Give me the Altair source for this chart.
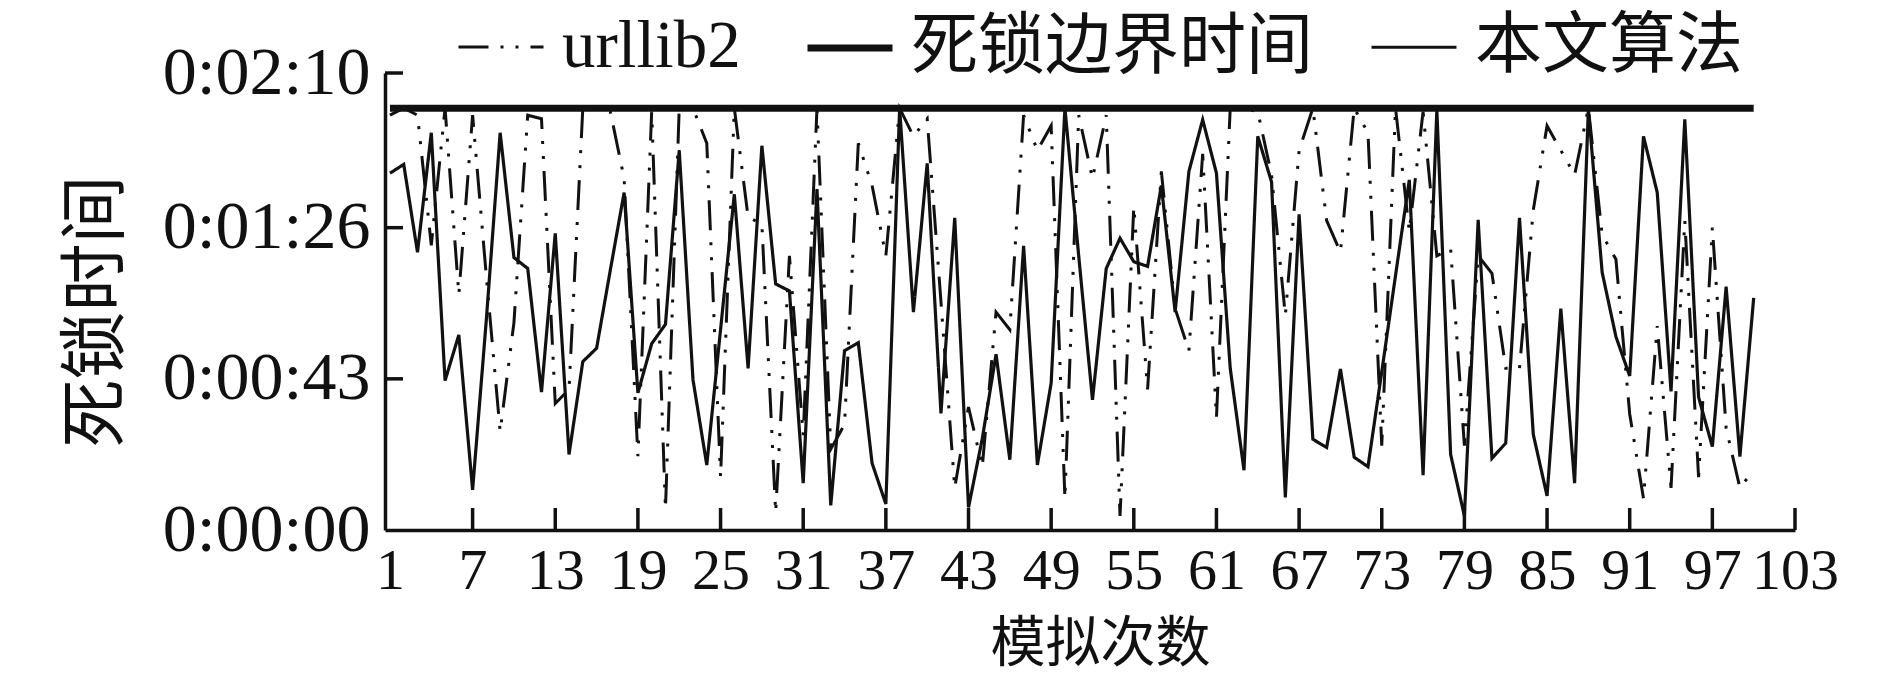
import altair as alt
import pandas as pd

# ---------------- data ----------------
series_names = ["urllib2", "死锁边界时间", "本文算法"]

runs = list(range(1, 101))

urllib2_secs = [118, 120, 118, 81, 120, 67, 118, 72, 28, 59,
                118, 117, 36, 40, 120, 120, 119, 100, 21, 119,
                6, 120, 120, 110, 15, 120, 89, 87, 5, 78,
                27, 120, 23, 30, 110, 98, 78, 120, 112, 117,
                65, 12, 35, 18, 62, 57, 118, 108, 115, 9,
                118, 100, 118, 4, 92, 40, 102, 63, 51, 107,
                32, 120, 120, 119, 101, 61, 108, 120, 88, 79,
                120, 113, 24, 120, 85, 119, 78, 80, 24, 78,
                73, 46, 46, 91, 115, 108, 101, 120, 84, 77,
                33, 9, 58, 12, 88, 15, 86, 29, 12, 17]

ours_secs = [101.5, 104, 79, 113, 42.5, 55.5, 11.4, 60, 113, 77.5,
             74.4, 39.2, 84.4, 21.5, 47.9, 51.7, 74, 96, 39, 53,
             58.5, 108, 42.7, 18.5, 57, 95.5, 46, 109.3, 70, 68,
             13.3, 97, 7, 51, 53.3, 19, 7.4, 120, 62, 104.3,
             33.2, 88.8, 6.4, 26, 50, 20, 80.8, 18.5, 41.8, 120,
             78, 37, 74.4, 83, 76.3, 75, 98, 62, 102, 116.7,
             101.5, 46, 17, 112, 99, 9.3, 89.8, 25.8, 23.5, 45.8,
             20.7, 18, 45, 72.4, 99.6, 15.6, 119.5, 21.5, 4, 88.2,
             20.4, 24.7, 88.8, 27.2, 9.7, 63, 13.3, 119.7, 73.3, 55,
             43.8, 112, 96, 39.4, 116.8, 37.8, 23.7, 69.2, 20.9, 66]

boundary_runs = [1, 100]
boundary_secs = [120, 120]

x_tick_values = [1, 7, 13, 19, 25, 31, 37, 43, 49, 55, 61, 67, 73, 79, 85, 91, 97, 103]
y_tick_values = [0, 43, 86, 130]
y_tick_labels = ["0:00:00", "0:00:43", "0:01:26", "0:02:10"]

# ---------------- table ----------------
rows = []
for r, v in zip(runs, urllib2_secs):
    rows.append({"run": r, "t": v, "series": series_names[0]})
for r, v in zip(boundary_runs, boundary_secs):
    rows.append({"run": r, "t": v, "series": series_names[1]})
for r, v in zip(runs, ours_secs):
    rows.append({"run": r, "t": v, "series": series_names[2]})
df = pd.DataFrame(rows)

# ---------------- styling ----------------
INK = "#111111"
SERIF = "Liberation Serif"
CJK = "Noto Sans CJK SC"
MIX = "Liberation Serif, Noto Sans CJK SC"
W, H = 1410, 457

xscale = alt.Scale(domain=[0.64, 103], nice=False, zero=False)
yscale = alt.Scale(domain=[0, 130], nice=False)

label_expr = "''"
for v, lab in reversed(list(zip(y_tick_values, y_tick_labels))):
    label_expr = f"datum.value == {v} ? '{lab}' : ({label_expr})"

legend = alt.Legend(
    orient="none", legendX=70, legendY=-71, direction="horizontal", columns=3,
    title=None, symbolType="stroke", symbolSize=7225, padding=0,
    labelFont=MIX, labelFontSize=67, labelColor=INK, labelLimit=1000,
    labelOffset=15, columnPadding=52, rowPadding=0,
)

x_axis = alt.Axis(
    values=x_tick_values, title="模拟次数", titleFont=CJK, titleFontSize=55,
    titleFontWeight="normal", titleColor=INK, titleX=715, titleY=113,
    titleBaseline="middle", titleAlign="center",
    labelFont=SERIF, labelFontSize=58, labelColor=INK, labelPadding=12,
    labelFlush=False, labelOverlap=False, labelLimit=400, ticks=False, grid=False,
    domainColor=INK, domainWidth=3.5)

y_axis = alt.Axis(
    values=y_tick_values, labelExpr=label_expr, title="死锁时间",
    titleFont=CJK, titleFontSize=68, titleFontWeight="normal", titleColor=INK,
    titleAngle=270, titleX=-288, titleY=238, titleAlign="center",
    titleBaseline="middle", titleLimit=1000,
    labelFont=SERIF, labelFontSize=68, labelColor=INK, labelPadding=15,
    labelFlush=False, labelOverlap=False, labelLimit=400, ticks=False, grid=False,
    domainColor=INK, domainWidth=3.5)

lines = alt.Chart(df).mark_line().encode(
    x=alt.X("run:Q", scale=xscale, axis=x_axis),
    y=alt.Y("t:Q", scale=yscale, axis=y_axis),
    color=alt.Color("series:N", scale=alt.Scale(domain=series_names, range=[INK, INK, INK]),
                    legend=legend),
    strokeDash=alt.StrokeDash("series:N", scale=alt.Scale(
        domain=series_names, range=[[30, 12, 3, 12, 3, 12], [1, 0], [1, 0]]), legend=legend),
    strokeWidth=alt.StrokeWidth("series:N", scale=alt.Scale(
        type="ordinal", domain=series_names, range=[3, 7, 3.2]), legend=legend),
)

x_ticks = alt.Chart(pd.DataFrame({"run": x_tick_values[1:]})).mark_rule(
    color=INK, strokeWidth=3.5).encode(
    x=alt.X("run:Q", scale=xscale, axis=x_axis),
    y=alt.value(H - 22), y2=alt.value(H))

y_ticks = alt.Chart(pd.DataFrame({"t": y_tick_values[1:]})).mark_rule(
    color=INK, strokeWidth=3.5).encode(
    y=alt.Y("t:Q", scale=yscale, axis=y_axis),
    x=alt.value(0), x2=alt.value(18))

chart = alt.layer(lines, x_ticks, y_ticks).properties(
    width=W, height=H,
    autosize=alt.AutoSizeParams(type="none"),
    padding={"left": 377, "top": 65, "right": 80, "bottom": 147},
    background="white",
).configure_view(stroke=None)

chart.save("out.html", embed_options={"renderer": "svg", "actions": False})
